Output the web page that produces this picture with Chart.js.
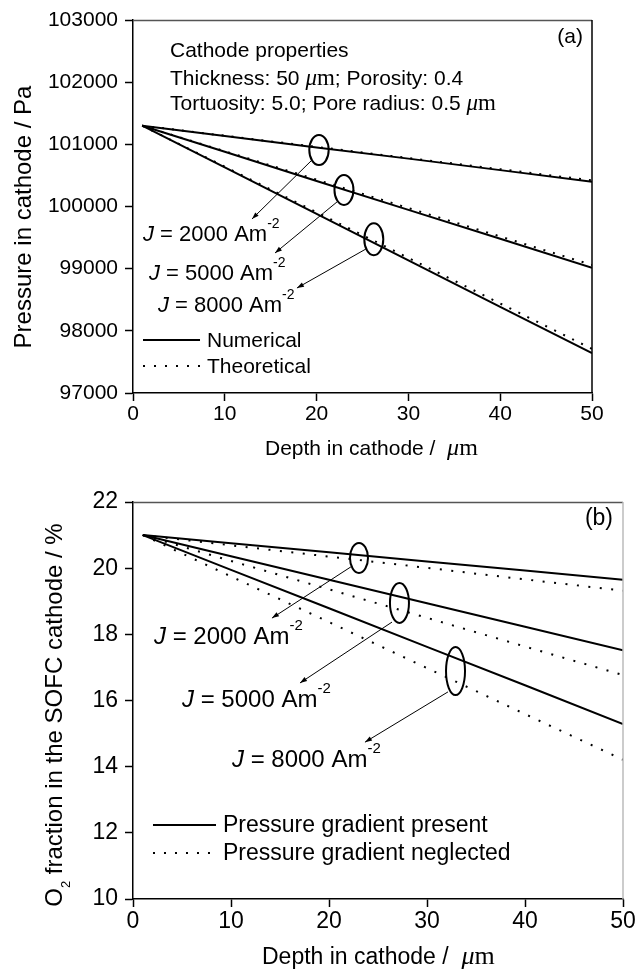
<!DOCTYPE html>
<html>
<head>
<meta charset="utf-8">
<script src="https://cdn.jsdelivr.net/npm/chart.js@4.4.1/dist/chart.umd.min.js"></script>
<style>
  html, body { margin: 0; padding: 0; background: #fff; }
  #wrap { position: relative; width: 636px; height: 970px; }
  canvas { position: absolute; left: 0; }
  #chartA { top: 0; }
  #chartB { top: 475px; }
</style>
</head>
<body>
<div id="wrap">
  <canvas id="chartA" width="636" height="475"></canvas>
  <canvas id="chartB" width="636" height="495"></canvas>
</div>
<script>
const SANS = '"Liberation Sans", Arial, sans-serif'
const SERIF = '"Liberation Serif", "Times New Roman", serif'

// ---- (a) pressure in cathode ----
const depth = [1, 10, 20, 30, 40, 50]
const depthTicks = [0, 10, 20, 30, 40, 50]
const pressureTicks = [97000, 98000, 99000, 100000, 101000, 102000, 103000]
const pNum2000 = [101300, 101135, 100950, 100770, 100585, 100400]
const pTheo2000 = [101300, 101138, 100959, 100779, 100600, 100420]
const pNum5000 = [101300, 100880, 100410, 99945, 99480, 99015]
const pTheo5000 = [101300, 100889, 100432, 99975, 99518, 99060]
const pNum8000 = [101300, 100628, 99881, 99134, 98387, 97640]
const pTheo8000 = [101300, 100640, 99907, 99173, 98440, 97710]

// ---- (b) O2 fraction ----
const o2Ticks = [10, 12, 14, 16, 18, 20, 22]
const o2With2000 = [21, 20.75, 20.48, 20.20, 19.93, 19.65]
const o2Without2000 = [21, 20.69, 20.35, 20.01, 19.66, 19.32]
const o2With5000 = [21, 20.36, 19.65, 18.94, 18.23, 17.52]
const o2Without5000 = [21, 20.22, 19.36, 18.50, 17.63, 16.77]
const o2With8000 = [21, 19.95, 18.79, 17.62, 16.46, 15.29]
const o2Without8000 = [21, 19.75, 18.37, 16.98, 15.59, 14.21]

const toPoints = ys => depth.map((d, i) => ({ x: d, y: ys[i] }))
const line = (ys, dash) => ({
  data: toPoints(ys),
  borderColor: '#000',
  borderWidth: 2,
  borderDash: dash || [],
  borderCapStyle: 'butt',
  pointRadius: 0,
  tension: 0,
  fill: false,
})

// draws a run of text pieces one after the other, returns end x
function rich(ctx, x, y, parts, align) {
  let w = 0
  for (const p of parts) { ctx.font = p.font; w += ctx.measureText(p.t).width }
  let cx = align === 'right' ? x - w : align === 'center' ? x - w / 2 : x
  ctx.textAlign = 'left'
  for (const p of parts) {
    ctx.font = p.font
    ctx.fillText(p.t, cx, y + (p.dy || 0))
    cx += ctx.measureText(p.t).width
  }
  return cx
}

function arrow(ctx, x1, y1, x2, y2) {
  ctx.lineWidth = 1
  ctx.setLineDash([])
  ctx.beginPath(); ctx.moveTo(x1, y1); ctx.lineTo(x2, y2); ctx.stroke()
  const a = Math.atan2(y2 - y1, x2 - x1), L = 7, W = 2.4
  ctx.beginPath()
  ctx.moveTo(x2, y2)
  ctx.lineTo(x2 - L * Math.cos(a) + W * Math.sin(a), y2 - L * Math.sin(a) - W * Math.cos(a))
  ctx.lineTo(x2 - L * Math.cos(a) - W * Math.sin(a), y2 - L * Math.sin(a) + W * Math.cos(a))
  ctx.closePath(); ctx.fill()
}

const jLabel = (value, fs) => [
  { t: 'J', font: `italic ${fs}px ${SANS}` },
  { t: ` = ${value} Am`, font: `${fs}px ${SANS}` },
  { t: '-2', font: `${Math.round(fs * 0.64)}px ${SANS}`, dy: -Math.round(fs * 0.58) },
]

// annotations in data coordinates
const overlay = cfg => ({
  id: 'overlay' + cfg.name,
  afterDraw(chart) {
    const { ctx, chartArea: a, scales: { x, y } } = chart
    const P = (vx, vy) => [x.getPixelForValue(vx), y.getPixelForValue(vy)]
    const fs = cfg.fs
    ctx.save()
    ctx.fillStyle = '#000'
    ctx.strokeStyle = '#000'
    ctx.textBaseline = 'alphabetic'

    // frame top / right
    ctx.lineWidth = 1.5
    ctx.strokeStyle = cfg.topColor
    ctx.beginPath(); ctx.moveTo(a.left, a.top + 0.5); ctx.lineTo(a.right, a.top + 0.5); ctx.stroke()
    ctx.strokeStyle = cfg.rightColor
    ctx.beginPath(); ctx.moveTo(a.right, a.top); ctx.lineTo(a.right, a.bottom); ctx.stroke()
    ctx.strokeStyle = '#000'

    // ellipses
    ctx.lineWidth = 2
    for (const [ex, ey, rx, ry] of cfg.ellipses) {
      const [cx, cy] = P(ex, ey)
      ctx.beginPath(); ctx.ellipse(cx, cy, rx, ry, 0, 0, Math.PI * 2); ctx.stroke()
    }
    // arrows
    for (const [x1, y1, x2, y2] of cfg.arrows) {
      const [a1, b1] = P(x1, y1), [a2, b2] = P(x2, y2)
      arrow(ctx, a1, b1, a2, b2)
    }
    // J labels
    cfg.jLabels.forEach(([v, lx, ly]) => {
      const [tx, ty] = P(lx, ly)
      rich(ctx, tx, ty, jLabel(v, cfg.jfs))
    })
    // panel tag
    {
      const [tx, ty] = P(cfg.tag[1], cfg.tag[2])
      ctx.font = `${fs}px ${SANS}`
      ctx.textAlign = 'right'
      ctx.fillText(cfg.tag[0], tx, ty)
    }
    // extra text lines
    for (const [parts, lx, ly] of cfg.texts || []) {
      const [tx, ty] = P(lx, ly)
      rich(ctx, tx, ty, parts)
    }
    // legend
    const [l0, l1, tX] = cfg.legendX
    cfg.legend.forEach(([label, ly, dash]) => {
      const [sx, sy] = P(l0, ly), [ex] = P(l1, ly), [tx] = P(tX, ly)
      ctx.lineWidth = 2
      ctx.setLineDash(dash)
      ctx.beginPath(); ctx.moveTo(sx, sy); ctx.lineTo(ex, sy); ctx.stroke()
      ctx.setLineDash([])
      ctx.font = `${fs}px ${SANS}`
      ctx.textBaseline = 'middle'
      ctx.textAlign = 'left'
      ctx.fillText(label, tx, sy + 1)
      ctx.textBaseline = 'alphabetic'
    })

    // x axis title
    rich(ctx, a.left + cfg.xTitle[0], a.bottom + cfg.xTitle[1], [
      { t: 'Depth in cathode /  ', font: `${fs}px ${SANS}` },
      { t: 'μ', font: `italic ${fs + 3}px ${SERIF}` },
      { t: 'm', font: `${fs + 3}px ${SERIF}` },
    ])
    // y axis title
    ctx.save()
    ctx.translate(cfg.yTitle[0], a.top + cfg.yTitle[1])
    ctx.rotate(-Math.PI / 2)
    rich(ctx, 0, 0, cfg.yTitleParts, 'center')
    ctx.restore()

    ctx.restore()
  },
})

const axes = (fs, yTicks, yW, xH) => ({
  x: {
    type: 'linear', min: 0, max: 50,
    afterBuildTicks: s => { s.ticks = depthTicks.map(v => ({ value: v })) },
    afterFit: s => { s.height = xH; s.paddingLeft = 0; s.paddingRight = 0 },
    grid: { drawOnChartArea: false, tickLength: 8, tickColor: '#000', tickWidth: 1.5 },
    border: { color: '#000', width: 1.5 },
    ticks: { color: '#000', padding: 1, maxRotation: 0, font: { family: SANS, size: fs }, callback: v => String(v) },
  },
  y: {
    type: 'linear', min: yTicks[0], max: yTicks[yTicks.length - 1],
    afterBuildTicks: s => { s.ticks = yTicks.map(v => ({ value: v })) },
    afterFit: s => { s.width = yW; s.paddingTop = 0; s.paddingBottom = 0 },
    grid: { drawOnChartArea: false, tickLength: 8, tickColor: '#000', tickWidth: 1.5 },
    border: { color: '#000', width: 1.5 },
    ticks: { color: '#000', padding: 7, font: { family: SANS, size: fs }, callback: v => String(v) },
  },
})

const baseOptions = {
  responsive: false,
  animation: false,
  devicePixelRatio: 1,
  plugins: { legend: { display: false }, title: { display: false }, tooltip: { enabled: false } },
}

const dotA = [2, 8]
const dotB = [2, 9.5]

new Chart(document.getElementById('chartA'), {
  type: 'line',
  data: {
    datasets: [
      line(pNum2000), line(pNum5000), line(pNum8000),
      line(pTheo2000, dotA), line(pTheo5000, dotA), line(pTheo8000, dotA),
    ],
  },
  options: {
    ...baseOptions,
    layout: { padding: { left: 0, right: 44, top: 20, bottom: 0 } },
    scales: axes(21, pressureTicks, 133, 82),
  },
  plugins: [overlay({
    name: 'A', fs: 21, jfs: 22,
    topColor: '#555', rightColor: '#000',
    ellipses: [[20.26, 100909, 9.7, 15], [22.98, 100266, 9.5, 15], [26.23, 99474, 9.5, 16]],
    arrows: [
      [19.39, 100732, 12.96, 99799],
      [22.22, 100073, 15.47, 99252],
      [25.38, 99317, 17.86, 98689],
    ],
    jLabels: [[2000, 1.09, 99445], [5000, 1.74, 98818], [8000, 2.72, 98303]],
    tag: ['(a)', 49.02, 102630],
    texts: [
      [[{ t: 'Cathode properties', font: `21px ${SANS}` }], 4.03, 102405],
      [[
        { t: 'Thickness: 50 ', font: `21px ${SANS}` },
        { t: 'μ', font: `italic 23px ${SERIF}` },
        { t: 'm', font: `23px ${SERIF}` },
        { t: '; Porosity: 0.4', font: `21px ${SANS}` },
      ], 4.03, 101955],
      [[
        { t: 'Tortuosity: 5.0; Pore radius: 0.5 ', font: `21px ${SANS}` },
        { t: 'μ', font: `italic 23px ${SERIF}` },
        { t: 'm', font: `23px ${SERIF}` },
      ], 4.03, 101552],
    ],
    legendX: [1.09, 7.3, 8.06],
    legend: [['Numerical', 97853, []], ['Theoretical', 97435, [2, 9]]],
    xTitle: [132, 62],
    yTitle: [31, 197],
    yTitleParts: [{ t: 'Pressure in cathode / Pa', font: `24px ${SANS}` }],
  })],
})

new Chart(document.getElementById('chartB'), {
  type: 'line',
  data: {
    datasets: [
      line(o2With2000), line(o2With5000), line(o2With8000),
      line(o2Without2000, dotB), line(o2Without5000, dotB), line(o2Without8000, dotB),
    ],
  },
  options: {
    ...baseOptions,
    layout: { padding: { left: 0, right: 13, top: 27, bottom: 0 } },
    scales: axes(23, o2Ticks, 133, 71),
  },
  plugins: [overlay({
    name: 'B', fs: 23, jfs: 24,
    topColor: '#555', rightColor: '#bbb',
    ellipses: [[23.06, 20.31, 9, 15], [27.19, 18.95, 9.5, 20], [32.91, 16.89, 9.5, 24]],
    arrows: [
      [22.24, 20.04, 14.18, 18.49],
      [26.43, 18.37, 17.04, 16.53],
      [32.14, 16.26, 23.67, 14.74],
    ],
    jLabels: [[2000, 2.14, 17.71], [5000, 5.0, 15.81], [8000, 10.1, 14.0]],
    tag: ['(b)', 48.98, 21.30],
    legendX: [2.04, 8.47, 9.18],
    legend: [['Pressure gradient present', 12.24, []], ['Pressure gradient neglected', 11.39, [2, 9]]],
    xTitle: [129, 65],
    yTitle: [62, 213],
    yTitleParts: [
      { t: 'O', font: `24px ${SANS}` },
      { t: '2', font: `13px ${SANS}`, dy: 8 },
      { t: ' fraction in the SOFC cathode / %', font: `24px ${SANS}` },
    ],
  })],
})
</script>
</body>
</html>
